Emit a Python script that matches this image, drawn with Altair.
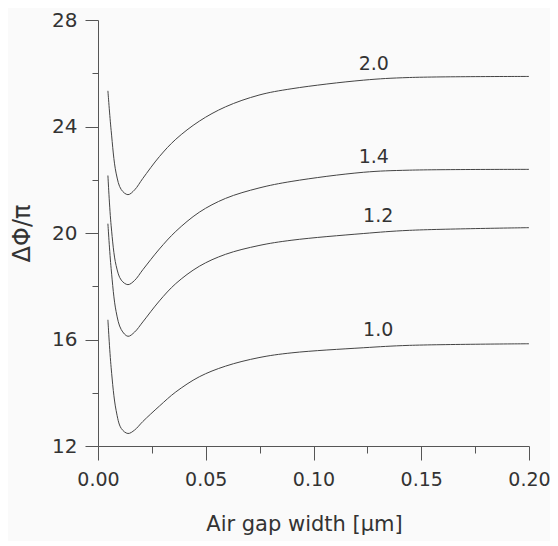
import altair as alt
import pandas as pd

x_vals = [0.0046, 0.0061, 0.0084, 0.0108, 0.0139, 0.0170, 0.0208, 0.0285, 0.0361, 0.0470,
          0.0592, 0.0747, 0.0900, 0.1231, 0.1445, 0.2000]
y_20 = [25.34, 23.85, 22.25, 21.63, 21.44, 21.62, 22.05, 22.87, 23.52, 24.20, 24.74, 25.18, 25.42, 25.74, 25.84, 25.88]
y_14 = [22.16, 20.27, 18.78, 18.23, 18.06, 18.22, 18.62, 19.40, 20.06, 20.78, 21.30, 21.69, 21.94, 22.28, 22.36, 22.39]
y_12 = [20.35, 18.66, 17.05, 16.37, 16.12, 16.28, 16.66, 17.45, 18.10, 18.75, 19.20, 19.53, 19.73, 19.98, 20.10, 20.20]
y_10 = [16.74, 14.94, 13.34, 12.66, 12.47, 12.60, 12.92, 13.50, 14.03, 14.60, 15.00, 15.32, 15.50, 15.69, 15.78, 15.84]

series_names = ["2.0", "1.4", "1.2", "1.0"]
label_x = [0.128, 0.128, 0.130, 0.130]
label_y = [26.33, 22.87, 20.64, 16.37]

rows = []
for name, ys in zip(series_names, [y_20, y_14, y_12, y_10]):
    for x, y in zip(x_vals, ys):
        rows.append({"series": name, "x": x, "y": y})
df = pd.DataFrame(rows)
labels = pd.DataFrame({"series": series_names, "x": label_x, "y": label_y})

FONT = "DejaVu Sans"
major_x = "round(datum.value*1000) % 50 == 0"
major_y = "datum.value % 4 == 0"

x_enc = alt.X("x:Q", scale=alt.Scale(domain=[0, 0.2], nice=False, zero=False),
              axis=alt.Axis(values=[i * 0.025 for i in range(9)],
                            labelExpr=f"{major_x} ? format(datum.value, '.2f') : ''",
                            tickSize={"condition": {"test": major_x, "value": 14}, "value": 7},
                            title="Air gap width [μm]", grid=False,
                            labelFontSize=19, titleFontSize=21, labelPadding=10,
                            titlePadding=24, titleFontWeight="normal", titleX=206,
                            labelFont=FONT, titleFont=FONT,
                            domainColor="#555555", tickColor="#555555",
                            labelColor="#333333", titleColor="#333333",
                            labelFlush=False))
y_enc = alt.Y("y:Q", scale=alt.Scale(domain=[12, 28], nice=False, zero=False),
              axis=alt.Axis(values=list(range(12, 29, 2)),
                            labelExpr=f"{major_y} ? format(datum.value, 'd') : ''",
                            tickSize={"condition": {"test": major_y, "value": 13}, "value": 6},
                            title="ΔΦ/π", grid=False,
                            labelFontSize=20, titleFontSize=24, labelPadding=8,
                            titlePadding=17, titleFontWeight="normal",
                            labelFont=FONT, titleFont=FONT,
                            domainColor="#555555", tickColor="#555555",
                            labelColor="#333333", titleColor="#333333",
                            labelFlush=False))

lines = alt.Chart(df).mark_line(color="#444444", strokeWidth=1, interpolate="catmull-rom").encode(
    x=x_enc, y=y_enc, detail="series:N")

text = alt.Chart(labels).mark_text(font=FONT, fontSize=19, color="#333333", baseline="middle").encode(
    x="x:Q", y="y:Q", text="series:N")

chart = (lines + text).properties(
    width=431, height=426,
    autosize=alt.AutoSizeParams(type="none"),
    padding={"left": 90, "top": 12, "right": 21, "bottom": 95},
    background="#fafafa",
).configure_view(stroke=None)

chart.save("out.html", embed_options={"renderer": "svg", "actions": False})
